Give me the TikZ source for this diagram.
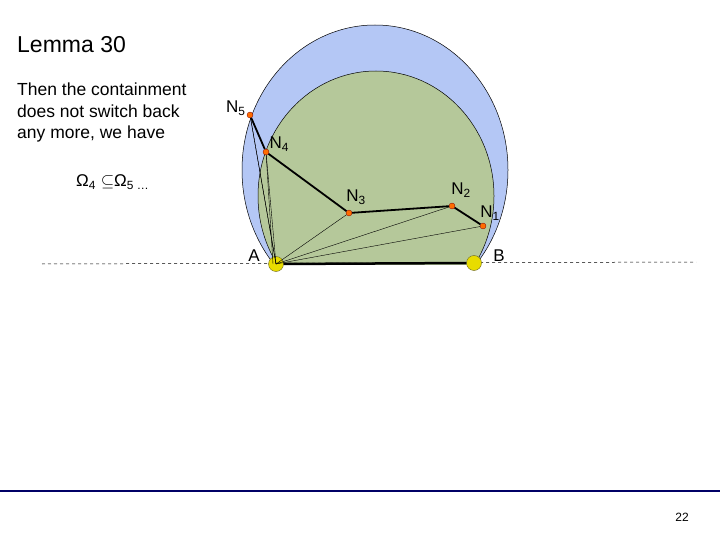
\documentclass[tikz,border=0pt]{standalone}
\usepackage{fontspec}
\setmainfont{Liberation Sans}
\begin{document}
\begin{tikzpicture}[x=1pt,y=-1pt,
  dot/.style={circle,fill=orange!85!red,draw=red!50!black,line width=0.3pt,inner sep=0pt,minimum size=6pt},
  big/.style={circle,fill=yellow!80!olive,draw=olive!70!black,line width=0.4pt,inner sep=0pt,minimum size=15pt},
  lab/.style={font=\fontsize{17}{20}\selectfont},
  thin/.style={line width=0.4pt},
  thick2/.style={line width=1.8pt}]
\useasboundingbox (0,0) rectangle (720,540);
\definecolor{blueF}{RGB}{180,199,245}
\definecolor{greenF}{RGB}{181,200,154}
\begin{scope}
\clip (0,0) rectangle (720,264);
\draw[fill=blueF,line width=0.5pt] (375,170) ellipse [x radius=133,y radius=145];
\draw[fill=greenF,line width=0.5pt] (376,196) ellipse [x radius=118,y radius=125];
\end{scope}
\draw[dashed,line width=0.5pt] (42,264) -- (696,262);
\node[big] (A) at (276,264) {};
\node[big] (B) at (474,263) {};
\node[dot] (N5) at (250,115) {};
\node[dot] (N4) at (266,152) {};
\node[dot] (N3) at (349,213) {};
\node[dot] (N2) at (452,206) {};
\node[dot] (N1) at (483,226) {};
\foreach \n in {N1,N2,N3,N4,N5} \draw[thin] (A.center) -- (\n);
\draw[thin] (A.center) -- (N5) (A.center)++(-3,0) -- (N4);
\draw[thick2] (N5) -- (N4) -- (N3) -- (N2) -- (N1);
\draw[line width=2.5pt] (A) -- (B);
\node[lab,anchor=east] at (249,108) {N\textsubscript{5}};
\node[lab,anchor=west] at (266,144) {N\textsubscript{4}};
\node[lab] at (356,197) {N\textsubscript{3}};
\node[lab] at (461,190) {N\textsubscript{2}};
\node[lab] at (490,213) {N\textsubscript{1}};
\node[lab] at (254,256) {A};
\node[lab] at (499,256) {B};
\node[anchor=west,font=\fontsize{23}{27}\selectfont,inner sep=0pt] (t) at (17,45) {Lemma 30};
\node[anchor=north west,align=left,font=\fontsize{17.5}{21.5}\selectfont,inner sep=0pt] (p) at (17,83) {Then the containment\\does not switch back\\any more, we have};
\node[anchor=west,font=\fontsize{17}{20}\selectfont,inner sep=0pt] (o) at (76,182) {Ω\textsubscript{4} $\subseteq$Ω\textsubscript{5 …}};
\draw[line width=2.5pt,color=blue!40!black] (0,491) -- (720,491);
\node[font=\fontsize{12}{14}\selectfont] (pg) at (682,517) {22};
\end{tikzpicture}
\end{document}
